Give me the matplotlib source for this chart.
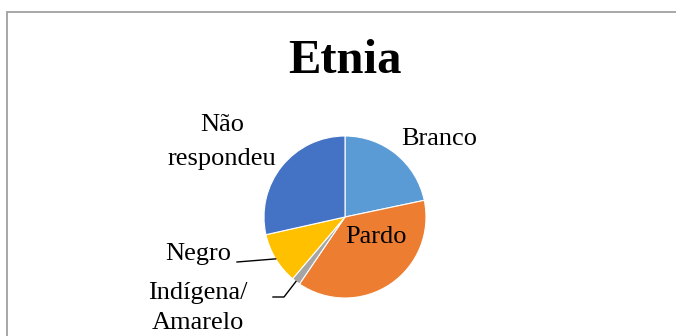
import numpy as np
import matplotlib.pyplot as plt
from matplotlib.lines import Line2D
from matplotlib.patches import Rectangle

# Data (share in %)
categories = ["Branco", "Pardo", "Indígena/\nAmarelo", "Negro", "Não\nrespondeu"]
values = [21.7, 37.8, 1.7, 10.3, 28.5]
colors = ["#5B9BD5", "#ED7D31", "#A5A5A5", "#FFC000", "#4472C4"]

W, H = 676, 336
plt.rcParams["font.family"] = ["Liberation Serif", "DejaVu Serif"]

fig = plt.figure(figsize=(W / 100, H / 100), dpi=100)


def fx(px):
    return px / W


def fy(py):
    return 1 - py / H


# Chart area border (cropped on right and bottom)
fig.add_artist(Rectangle((fx(6.5), fy(400)), fx(800), fy(12) - fy(400),
                         transform=fig.transFigure, fill=False,
                         edgecolor="#A0A0A0", lw=1.3))

# Pie axes: centre (345, 217), radius 81 px
cx, cy, r = 345, 217, 81
ax = fig.add_axes([fx(cx - r), fy(cy + r), fx(2 * r), (2 * r) / H])
wedges, _ = ax.pie(values, colors=colors, startangle=90, counterclock=False,
                   radius=1, wedgeprops=dict(edgecolor="white", linewidth=0.8))
ax.set_xlim(-1, 1)
ax.set_ylim(-1, 1)
ax.axis("off")

fig.text(fx(345), fy(61), "Etnia", ha="center", va="center",
         fontsize=35, fontweight="bold")

fs = 19
fig.text(fx(439), fy(139), categories[0], ha="center", va="center", fontsize=fs)
fig.text(fx(376), fy(237), categories[1], ha="center", va="center", fontsize=fs)
fig.text(fx(222), fy(142), categories[4], ha="center", va="center",
         fontsize=fs, linespacing=1.7)
fig.text(fx(231), fy(254), categories[3], ha="right", va="center", fontsize=fs)
fig.text(fx(198), fy(308), categories[2], ha="center", va="center",
         fontsize=fs, linespacing=1.5)


def edge_point(w):
    a = np.deg2rad((w.theta1 + w.theta2) / 2)
    return fx(cx + r * np.cos(a)), fy(cy - r * np.sin(a))


# Leader lines
px, py = edge_point(wedges[3])
fig.add_artist(Line2D([fx(237), px], [fy(262), py], color="black", lw=1,
                      transform=fig.transFigure))
px, py = edge_point(wedges[2])
fig.add_artist(Line2D([fx(273), fx(284), px], [fy(297), fy(297), py],
                      color="black", lw=1, transform=fig.transFigure))

fig.savefig("out.png", dpi=100)
